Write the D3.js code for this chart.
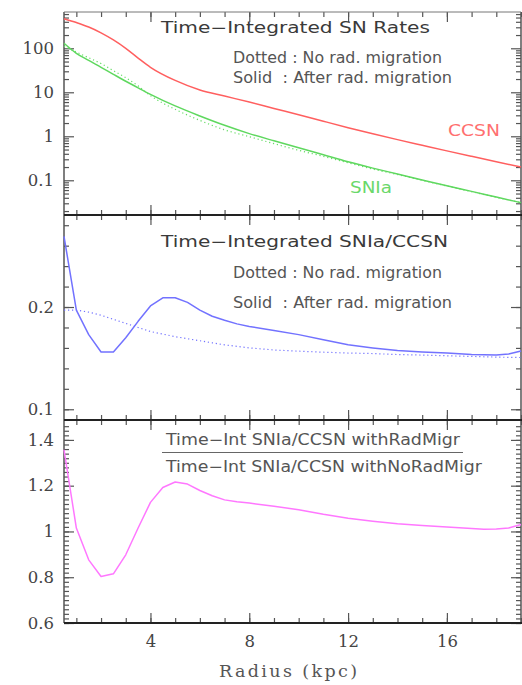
<!DOCTYPE html>
<html>
<head>
<meta charset="utf-8">
<script src="https://cdn.jsdelivr.net/npm/d3@7"></script>
<style>
  body { margin: 0; background: #fff; }
  .tick line { stroke: #555; stroke-width: 1.2; }
  .tick text { font-family: "DejaVu Serif", serif; font-size: 16.5px; fill: #444; }
  .lab { font-family: "DejaVu Sans", sans-serif; font-size: 15px; }
</style>
</head>
<body>
<svg id="chart" width="522" height="685"></svg>
<script>
// radius grid (kpc)
var radiusTop = [0.5, 1, 1.5, 2, 2.5, 3, 3.5, 4, 5, 6, 7, 8, 9, 10, 11, 12, 13, 14, 15, 16, 17, 18, 19];
var ccsnSolid = [470, 385, 305, 225, 155, 100, 60, 37, 18.6, 11.3, 8.2, 6.0, 4.3, 3.1, 2.2, 1.57, 1.14, 0.84, 0.625, 0.466, 0.35, 0.264, 0.2];
var snIaSolid = [130, 77, 53, 37, 25.6, 17.8, 12.6, 9.0, 4.9, 2.9, 1.78, 1.15, 0.79, 0.55, 0.38, 0.263, 0.189, 0.139, 0.102, 0.075, 0.056, 0.0416, 0.031];
var snIaDotted = [112, 82, 61, 45, 31, 21.5, 14, 8.4, 4.1, 2.3, 1.4, 0.98, 0.68, 0.48, 0.35, 0.25, 0.18, 0.135, 0.1, 0.074, 0.055, 0.041, 0.031];

var radiusMid = [0.5, 1, 1.5, 2, 2.5, 3, 3.5, 4, 4.5, 5, 5.5, 6, 6.5, 7, 7.5, 8, 9, 10, 11, 12, 13, 14, 15, 16, 17, 18, 18.5, 19];
var ratioSolid = [0.269, 0.197, 0.173, 0.156, 0.156, 0.170, 0.186, 0.201, 0.209, 0.209, 0.2045, 0.197, 0.191, 0.187, 0.1835, 0.181, 0.177, 0.173, 0.168, 0.163, 0.160, 0.1575, 0.156, 0.155, 0.1535, 0.153, 0.154, 0.157];
var ratioDotted = [0.197, 0.197, 0.195, 0.192, 0.188, 0.184, 0.180, 0.176, 0.1735, 0.171, 0.169, 0.167, 0.165, 0.163, 0.1615, 0.160, 0.158, 0.1568, 0.1558, 0.155, 0.1545, 0.1535, 0.153, 0.1523, 0.1517, 0.151, 0.1508, 0.1506];

var radiusBot = [0.5, 1, 1.5, 2, 2.5, 3, 3.5, 4, 4.5, 5, 5.5, 6, 6.5, 7, 7.5, 8, 9, 10, 11, 12, 13, 14, 15, 16, 17, 17.5, 18, 18.5, 19];
var ratioOfRatios = [1.357, 1.015, 0.876, 0.803, 0.815, 0.898, 1.015, 1.127, 1.192, 1.216, 1.207, 1.179, 1.156, 1.138, 1.13, 1.124, 1.11, 1.095, 1.075, 1.058, 1.045, 1.034, 1.026, 1.019, 1.013, 1.01, 1.011, 1.015, 1.03];

var xMajor = [4, 8, 12, 16];
var xMinor = d3.range(1, 20);
var logMajor = [0.1, 1, 10, 100];
var midMajor = [0.1, 0.2];
var botMajor = [0.6, 0.8, 1, 1.2, 1.4];

var svg = d3.select("#chart"),
    left = 64, right = 521,
    p1 = {top: 12, bottom: 215},
    p2 = {top: 215, bottom: 420},
    p3 = {top: 420, bottom: 623};

var x = d3.scaleLinear().domain([0.5, 19]).range([left, right]);
var y1 = d3.scaleLog().domain([0.01626, 668]).range([p1.bottom, p1.top]);
var y2 = d3.scaleLinear().domain([0.0895, 0.29]).range([p2.bottom, p2.top]);
var y3 = d3.scaleLinear().domain([0.6, 1.487]).range([p3.bottom, p3.top]);

var logMinor = [];
[0.01, 0.1, 1, 10, 100].forEach(function(d) {
  for (var k = 2; k <= 9; k++) logMinor.push(d * k);
});
logMinor = logMinor.filter(function(v) { return v > 0.01626 && v < 668; });
var midMinor = d3.range(0.1, 0.29, 0.02);
var botMinor = d3.range(0.6, 1.48, 0.02);

function yTicks(scale, major, minor, fmt) {
  svg.append("g").attr("transform", "translate(" + left + ",0)")
      .call(d3.axisLeft(scale).tickValues(minor).tickSize(-5).tickFormat(""))
      .select(".domain").remove();
  svg.append("g").attr("transform", "translate(" + left + ",0)")
      .call(d3.axisLeft(scale).tickValues(major).tickSize(-10).tickPadding(10).tickFormat(fmt))
      .select(".domain").remove();
  svg.append("g").attr("transform", "translate(" + right + ",0)")
      .call(d3.axisRight(scale).tickValues(minor).tickSize(-5).tickFormat(""))
      .select(".domain").remove();
  svg.append("g").attr("transform", "translate(" + right + ",0)")
      .call(d3.axisRight(scale).tickValues(major).tickSize(-10).tickFormat(""))
      .select(".domain").remove();
}

function xTicks(ypos, dir, labels) {
  var ax = dir === "down" ? d3.axisTop : d3.axisBottom;
  svg.append("g").attr("transform", "translate(0," + ypos + ")")
      .call(ax(x).tickValues(xMinor).tickSize(-5).tickFormat(""))
      .select(".domain").remove();
  var g = svg.append("g").attr("transform", "translate(0," + ypos + ")")
      .call(ax(x).tickValues(xMajor).tickSize(-10).tickPadding(12)
        .tickFormat(labels ? d3.format("d") : ""));
  g.select(".domain").remove();
}

yTicks(y1, logMajor, logMinor, function(d) { return d >= 1 ? d3.format("d")(d) : d; });
yTicks(y2, midMajor, midMinor, function(d) { return d; });
yTicks(y3, botMajor, botMinor, function(d) { return d === 1 ? "1" : d3.format(".1f")(d); });

xTicks(p1.top, "down", false);
xTicks(p1.bottom, "up", false);
xTicks(p2.top, "down", false);
xTicks(p2.bottom, "up", false);
xTicks(p3.top, "down", false);
xTicks(p3.bottom, "up", true);

// frame
svg.append("line").attr("x1", left).attr("x2", left).attr("y1", p1.top).attr("y2", p3.bottom)
    .attr("stroke", "#555").attr("stroke-width", 1.5);
svg.append("line").attr("x1", right).attr("x2", right).attr("y1", p1.top).attr("y2", p3.bottom)
    .attr("stroke", "#555").attr("stroke-width", 1.5);
svg.append("line").attr("x1", left).attr("x2", right).attr("y1", p1.top).attr("y2", p1.top)
    .attr("stroke", "#777").attr("stroke-width", 1);
[p1.bottom, p2.bottom, p3.bottom].forEach(function(yy) {
  svg.append("line").attr("x1", left).attr("x2", right + 1).attr("y1", yy).attr("y2", yy)
      .attr("stroke", "#222").attr("stroke-width", 2);
});

function drawLine(xs, ys, yScale, color, dotted) {
  var pts = xs.map(function(d, i) { return [d, ys[i]]; });
  var line = d3.line()
      .x(function(d) { return x(d[0]); })
      .y(function(d) { return yScale(d[1]); });
  if (yScale === y1) line.curve(d3.curveMonotoneX);
  svg.append("path")
      .datum(pts)
      .attr("fill", "none")
      .attr("stroke", color)
      .attr("stroke-width", dotted ? 1.2 : 1.5)
      .attr("stroke-dasharray", dotted ? "1.2,2.8" : null)
      .attr("stroke-linejoin", "round")
      .attr("d", line);
}

drawLine(radiusTop, snIaDotted, y1, "#66dd66", true);
drawLine(radiusTop, ccsnSolid, y1, "#ff5f5f", false);
drawLine(radiusTop, snIaSolid, y1, "#5fd85f", false);
drawLine(radiusMid, ratioDotted, y2, "#7272ff", true);
drawLine(radiusMid, ratioSolid, y2, "#7272ff", false);
drawLine(radiusBot, ratioOfRatios, y3, "#ff77ff", false);

function label(txt, x0, yb, w, color, size) {
  return svg.append("text").attr("class", "lab")
      .attr("x", x0).attr("y", yb)
      .attr("fill", color)
      .attr("font-size", size || 15)
      .attr("textLength", w).attr("lengthAdjust", "spacingAndGlyphs")
      .text(txt);
}

label("Time\u2212Integrated SN Rates", 161, 33, 269, "#3a3a3a", 16);
label("Dotted : No rad. migration", 233, 63, 209, "#555");
label("Solid  : After rad. migration", 233, 83, 219, "#555").attr("xml:space", "preserve");
label("CCSN", 448, 136, 52, "#ff7070");
label("SNIa", 350, 193, 42, "#6ad86a");

label("Time\u2212Integrated SNIa/CCSN", 161, 247, 287, "#3a3a3a", 16);
label("Dotted : No rad. migration", 233, 278, 209, "#555");
label("Solid  : After rad. migration", 233, 308, 219, "#555").attr("xml:space", "preserve");

label("Time\u2212Int SNIa/CCSN withRadMigr", 166, 445, 294, "#555");
svg.append("line").attr("x1", 162).attr("x2", 463).attr("y1", 452.5).attr("y2", 452.5)
    .attr("stroke", "#666").attr("stroke-width", 1);
label("Time\u2212Int SNIa/CCSN withNoRadMigr", 166, 472, 316, "#555");

svg.append("text")
    .attr("x", 219).attr("y", 677)
    .attr("font-family", "DejaVu Serif, serif").attr("font-size", 17.5)
    .attr("fill", "#555")
    .attr("textLength", 138).attr("lengthAdjust", "spacing")
    .text("Radius (kpc)");
</script>
</body>
</html>
